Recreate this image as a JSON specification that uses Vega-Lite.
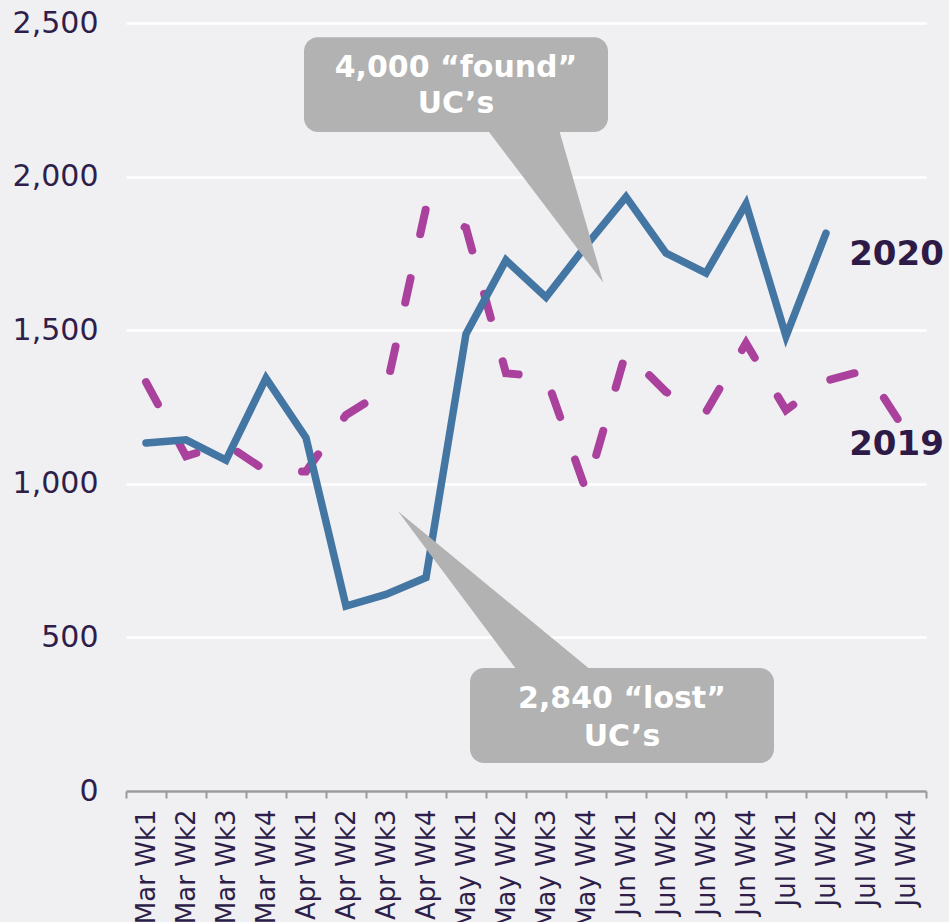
{
  "$schema": "https://vega.github.io/schema/vega-lite/v6.json",
  "width": 800,
  "height": 768,
  "autosize": "none",
  "padding": {"left": 126, "top": 23, "right": 23, "bottom": 131},
  "background": "#f0eff2",
  "config": {"view": {"stroke": null}, "font": "DejaVu Sans"},
  "datasets": {
    "weekly": [
      {"week": "Mar Wk1", "year": "2019", "value": 1331},
      {"week": "Mar Wk2", "year": "2019", "value": 1090},
      {"week": "Mar Wk3", "year": "2019", "value": 1129},
      {"week": "Mar Wk4", "year": "2019", "value": 1042},
      {"week": "Apr Wk1", "year": "2019", "value": 1040},
      {"week": "Apr Wk2", "year": "2019", "value": 1224},
      {"week": "Apr Wk3", "year": "2019", "value": 1305},
      {"week": "Apr Wk4", "year": "2019", "value": 1898},
      {"week": "May Wk1", "year": "2019", "value": 1833},
      {"week": "May Wk2", "year": "2019", "value": 1360},
      {"week": "May Wk3", "year": "2019", "value": 1348},
      {"week": "May Wk4", "year": "2019", "value": 978},
      {"week": "Jun Wk1", "year": "2019", "value": 1429},
      {"week": "Jun Wk2", "year": "2019", "value": 1299},
      {"week": "Jun Wk3", "year": "2019", "value": 1234},
      {"week": "Jun Wk4", "year": "2019", "value": 1458},
      {"week": "Jul Wk1", "year": "2019", "value": 1240},
      {"week": "Jul Wk2", "year": "2019", "value": 1335},
      {"week": "Jul Wk3", "year": "2019", "value": 1370},
      {"week": "Jul Wk4", "year": "2019", "value": 1169},
      {"week": "Mar Wk1", "year": "2020", "value": 1133},
      {"week": "Mar Wk2", "year": "2020", "value": 1143},
      {"week": "Mar Wk3", "year": "2020", "value": 1077},
      {"week": "Mar Wk4", "year": "2020", "value": 1344},
      {"week": "Apr Wk1", "year": "2020", "value": 1150},
      {"week": "Apr Wk2", "year": "2020", "value": 602},
      {"week": "Apr Wk3", "year": "2020", "value": 640},
      {"week": "Apr Wk4", "year": "2020", "value": 695},
      {"week": "May Wk1", "year": "2020", "value": 1488},
      {"week": "May Wk2", "year": "2020", "value": 1728},
      {"week": "May Wk3", "year": "2020", "value": 1607},
      {"week": "May Wk4", "year": "2020", "value": 1775},
      {"week": "Jun Wk1", "year": "2020", "value": 1934},
      {"week": "Jun Wk2", "year": "2020", "value": 1751},
      {"week": "Jun Wk3", "year": "2020", "value": 1686},
      {"week": "Jun Wk4", "year": "2020", "value": 1911},
      {"week": "Jul Wk1", "year": "2020", "value": 1480},
      {"week": "Jul Wk2", "year": "2020", "value": 1816}
    ],
    "boxes": [
      {"x0": 4.45, "x1": 12.05, "top": 2454, "bottom": 2145},
      {"x0": 8.6, "x1": 16.2, "top": 400, "bottom": 91}
    ],
    "pointer1": [
      {"py": 2175, "left": 8.9, "right": 10.775},
      {"py": 1655, "left": 11.93, "right": 11.93}
    ],
    "pointer2": [
      {"py": 911, "left": 6.8, "right": 6.8},
      {"py": 380, "left": 9.85, "right": 11.75}
    ],
    "callouts": [
      {"cx": 8.25, "cy": 2355, "label": "4,000 “found”"},
      {"cx": 8.25, "cy": 2235, "label": "UC’s"},
      {"cx": 12.4, "cy": 298, "label": "2,840 “lost”"},
      {"cx": 12.4, "cy": 175, "label": "UC’s"}
    ],
    "years": [
      {"lx": 18.08, "ly": 1745, "year": "2020"},
      {"lx": 18.08, "ly": 1126, "year": "2019"}
    ]
  },
  "layer": [
    {
      "data": {"name": "weekly"},
      "encoding": {
        "x": {
          "field": "week",
          "type": "nominal",
          "sort": null,
          "scale": {"type": "band", "paddingInner": 0, "paddingOuter": 0},
          "axis": {
            "title": null,
            "labelAngle": -90,
            "labelFontSize": 26,
            "labelColor": "#2e1f4a",
            "labelPadding": 11,
            "tickBand": "extent",
            "tickSize": 7,
            "tickWidth": 2,
            "tickColor": "#9a999c",
            "domainColor": "#9a999c",
            "domainWidth": 2.5,
            "grid": false
          }
        },
        "y": {
          "field": "value",
          "type": "quantitative",
          "scale": {"domain": [0, 2500], "nice": false},
          "axis": {
            "title": null,
            "values": [0, 500, 1000, 1500, 2000, 2500],
            "format": ",d",
            "labelFontSize": 30,
            "labelColor": "#2e1f4a",
            "labelPadding": 28,
            "ticks": false,
            "domain": false,
            "grid": true,
            "gridColor": "#ffffff",
            "gridWidth": 2.5
          }
        }
      },
      "layer": [
        {
          "transform": [{"filter": "datum.year === '2019'"}],
          "mark": {"type": "line", "color": "#a9419d", "strokeWidth": 8, "strokeCap": "round", "strokeDash": [25, 45]}
        },
        {
          "transform": [{"filter": "datum.year === '2020'"}],
          "mark": {"type": "line", "color": "#4476a3", "strokeWidth": 7.5, "strokeCap": "round"}
        }
      ]
    },
    {
      "encoding": {
        "x": {"type": "quantitative", "scale": {"domain": [0, 20], "nice": false, "zero": false}, "axis": null}
      },
      "layer": [
        {
          "data": {"name": "pointer1"},
          "mark": {"type": "area", "orient": "horizontal", "color": "#b1b2b1", "opacity": 1},
          "encoding": {
            "y": {"field": "py", "type": "quantitative", "axis": {"title": null}},
            "x": {"field": "left", "type": "quantitative", "axis": null},
            "x2": {"field": "right"}
          }
        },
        {
          "data": {"name": "pointer2"},
          "mark": {"type": "area", "orient": "horizontal", "color": "#b1b2b1", "opacity": 1},
          "encoding": {
            "y": {"field": "py", "type": "quantitative", "axis": {"title": null}},
            "x": {"field": "left", "type": "quantitative", "axis": null},
            "x2": {"field": "right"}
          }
        },
        {
          "data": {"name": "boxes"},
          "mark": {"type": "rect", "color": "#b1b2b1", "cornerRadius": 14},
          "encoding": {
            "x": {"field": "x0", "type": "quantitative", "axis": null},
            "x2": {"field": "x1"},
            "y": {"field": "top", "type": "quantitative", "axis": {"title": null}},
            "y2": {"field": "bottom"}
          }
        },
        {
          "data": {"name": "callouts"},
          "mark": {"type": "text", "color": "#ffffff", "fontSize": 30, "fontWeight": "bold", "align": "center", "baseline": "middle"},
          "encoding": {
            "x": {"field": "cx", "type": "quantitative", "axis": null},
            "y": {"field": "cy", "type": "quantitative", "axis": {"title": null}},
            "text": {"field": "label"}
          }
        },
        {
          "data": {"name": "years"},
          "mark": {"type": "text", "color": "#2e1a47", "fontSize": 34, "fontWeight": "bold", "align": "left", "baseline": "middle"},
          "encoding": {
            "x": {"field": "lx", "type": "quantitative", "axis": null},
            "y": {"field": "ly", "type": "quantitative", "axis": {"title": null}},
            "text": {"field": "year"}
          }
        }
      ]
    }
  ],
  "resolve": {"scale": {"x": "independent"}, "axis": {"x": "independent"}}
}
